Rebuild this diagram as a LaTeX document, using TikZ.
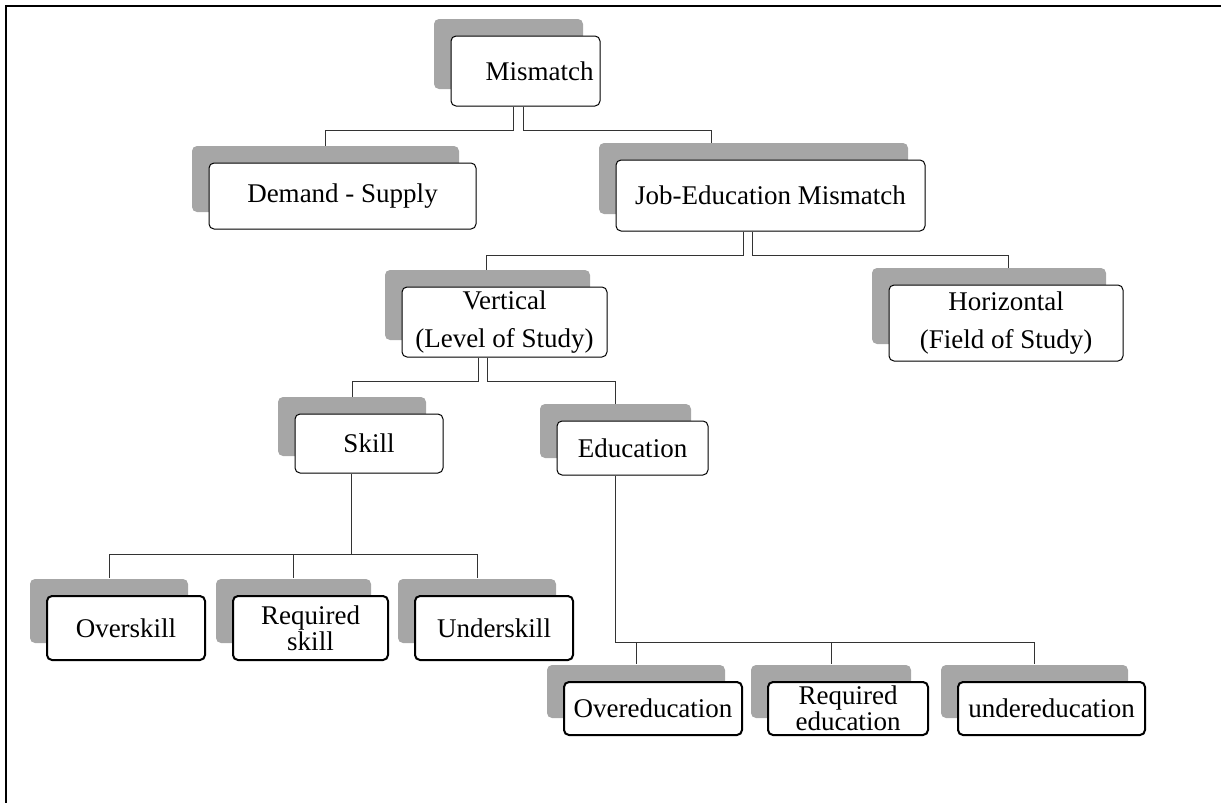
\documentclass[tikz,border=0pt]{standalone}
\usepackage{fontspec}
\setmainfont{Liberation Serif}
\usetikzlibrary{shadows}
\definecolor{shadegray}{RGB}{166,166,166}
\tikzset{
  box/.style={draw, fill=white, rounded corners=2.5pt, line width=0.5pt,
    align=center, inner sep=0pt,
    font=\fontsize{13.5}{19}\selectfont,
    general shadow={fill=shadegray, shadow xshift=-8.5pt, shadow yshift=8.5pt}},
  leaf/.style={box, line width=1pt, font=\fontsize{13.5}{13}\selectfont},
  link/.style={line width=0.5pt, black!80},
}
\begin{document}
\begin{tikzpicture}[x=0.5pt,y=-0.5pt]
        \useasboundingbox (0,0) rectangle (1221,803);
        \draw[line width=1pt] (6,803) -- (6,6) -- (1221,6);
        \node[box, minimum width=74.5pt, minimum height=35pt] (mis) at (525.5,71) {\hspace*{14pt}Mismatch};
        \node[box, minimum width=133.5pt, minimum height=33pt] (dem) at (342.5,196) {Demand - Supply};
        \node[box, minimum width=154.5pt, minimum height=35.5pt] (jem) at (770.5,195.5) {Job-Education Mismatch};
        \node[box, minimum width=102.5pt, minimum height=35pt] (ver) at (504.5,322) {Vertical\\(Level of Study)};
        \node[box, minimum width=117pt, minimum height=38pt] (hor) at (1006,323) {Horizontal\\(Field of Study)};
        \node[box, minimum width=74pt, minimum height=29.5pt] (ski) at (369,443.5) {Skill};
        \node[box, minimum width=75.5pt, minimum height=27pt] (edu) at (632.5,448) {Education};
        \node[leaf, minimum width=79pt, minimum height=32pt] (ovs) at (126,628) {Overskill};
        \node[leaf, minimum width=77.5pt, minimum height=32pt] (rqs) at (310.5,628) {Required\\skill};
        \node[leaf, minimum width=79pt, minimum height=32pt] (uns) at (494,628) {Underskill};
        \node[leaf, minimum width=89pt, minimum height=26.5pt] (ove) at (653,708.5) {Overeducation};
        \node[leaf, minimum width=80pt, minimum height=26.5pt] (rqe) at (848,708.5) {Required\\education};
        \node[leaf, minimum width=93.5pt, minimum height=26.5pt] (und) at (1051.5,708.5) {undereducation};
        % upper levels
        \draw[link] ([xshift=-6.25pt]mis.south) -- ++(0,24) -| ([xshift=-8.5pt,yshift=8.5pt]dem.north);
        \draw[link] ([xshift=-1.25pt]mis.south) -- ++(0,24) -| ([xshift=-29.75pt,yshift=8.5pt]jem.north);
        \draw[link] ([xshift=-13.75pt]jem.south) -- ++(0,24) -| ([xshift=-9.25pt,yshift=8.5pt]ver.north);
        \draw[link] ([xshift=-9.25pt]jem.south) -- ++(0,24) -| ([xshift=1pt,yshift=8.5pt]hor.north);
        \draw[link] ([xshift=-13.25pt]ver.south) -- ++(0,24) -| ([xshift=-8.5pt,yshift=8.5pt]ski.north);
        \draw[link] ([xshift=-8.75pt]ver.south) -- ++(0,24) -| ([xshift=-8.5pt,yshift=8.5pt]edu.north);
        % lower levels
        \draw[link] ([xshift=-9pt]ski.south) -- ++(0,81) coordinate (skb);
        \draw[link] ([xshift=-8.75pt]edu.south) -- ++(0,167) coordinate (edb);
        \foreach \n in {ovs,rqs,uns}
          \draw[link] (skb) -| ([xshift=-8.5pt,yshift=8.5pt]\n.north);
        \foreach \n in {ove,rqe,und}
          \draw[link] (edb) -| ([xshift=-8.5pt,yshift=8.5pt]\n.north);
      \end{tikzpicture}
\end{document}
